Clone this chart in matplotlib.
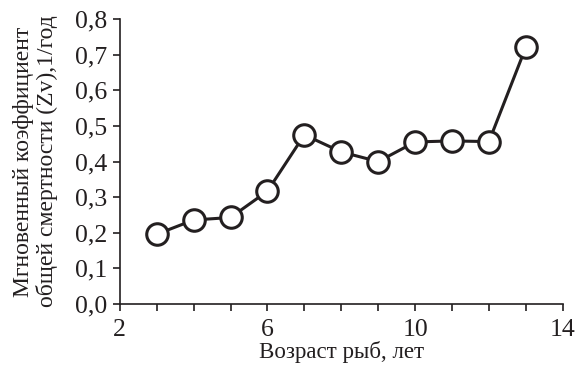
import matplotlib
matplotlib.use("Agg")
import matplotlib.pyplot as plt
from matplotlib.ticker import MultipleLocator, FuncFormatter

# age of fish (years) and instantaneous total mortality Zv (1/year)
ages = [3, 4, 5, 6, 7, 8, 9, 10, 11, 12, 13]
zv = [0.196, 0.236, 0.243, 0.317, 0.475, 0.427, 0.400, 0.455, 0.458, 0.456, 0.721]

x_ticks = [2, 6, 10, 14]
y_ticks = [0.0, 0.1, 0.2, 0.3, 0.4, 0.5, 0.6, 0.7, 0.8]

plt.rcParams['font.family'] = ['Liberation Serif', 'DejaVu Serif']

fig = plt.figure(figsize=(5.76, 3.74), dpi=100)
ax = fig.add_axes([0.208, 0.187, 0.769, 0.762])

ax.plot(ages, zv, color='#231f20', lw=2.2, marker='o', ms=15.5,
        mfc='white', mec='#231f20', mew=2.2, clip_on=False, zorder=3)

ax.set_xlim(2, 14)
ax.set_ylim(0, 0.8)
ax.set_xticks(x_ticks)
ax.xaxis.set_minor_locator(MultipleLocator(1))
ax.set_yticks(y_ticks)
ax.yaxis.set_major_formatter(FuncFormatter(lambda v, p: f"{v:.1f}".replace('.', ',')))

for s in ['top', 'right']:
    ax.spines[s].set_visible(False)
for s in ['left', 'bottom']:
    ax.spines[s].set_linewidth(1.2)
    ax.spines[s].set_color('#231f20')

ax.tick_params(axis='both', which='both', direction='out', length=5, width=1.2,
               colors='#231f20', labelsize=18.5)
ax.tick_params(axis='x', pad=6)
ax.tick_params(axis='y', pad=4)

ax.set_xlabel('Возраст рыб, лет', fontsize=16.5, color='#231f20', labelpad=0)
ax.set_ylabel('Мгновенный коэффициент\nобщей смертности (Zv),1/год',
              fontsize=17, color='#231f20', linespacing=1.15, labelpad=12)

fig.savefig('out.png', dpi=100)
